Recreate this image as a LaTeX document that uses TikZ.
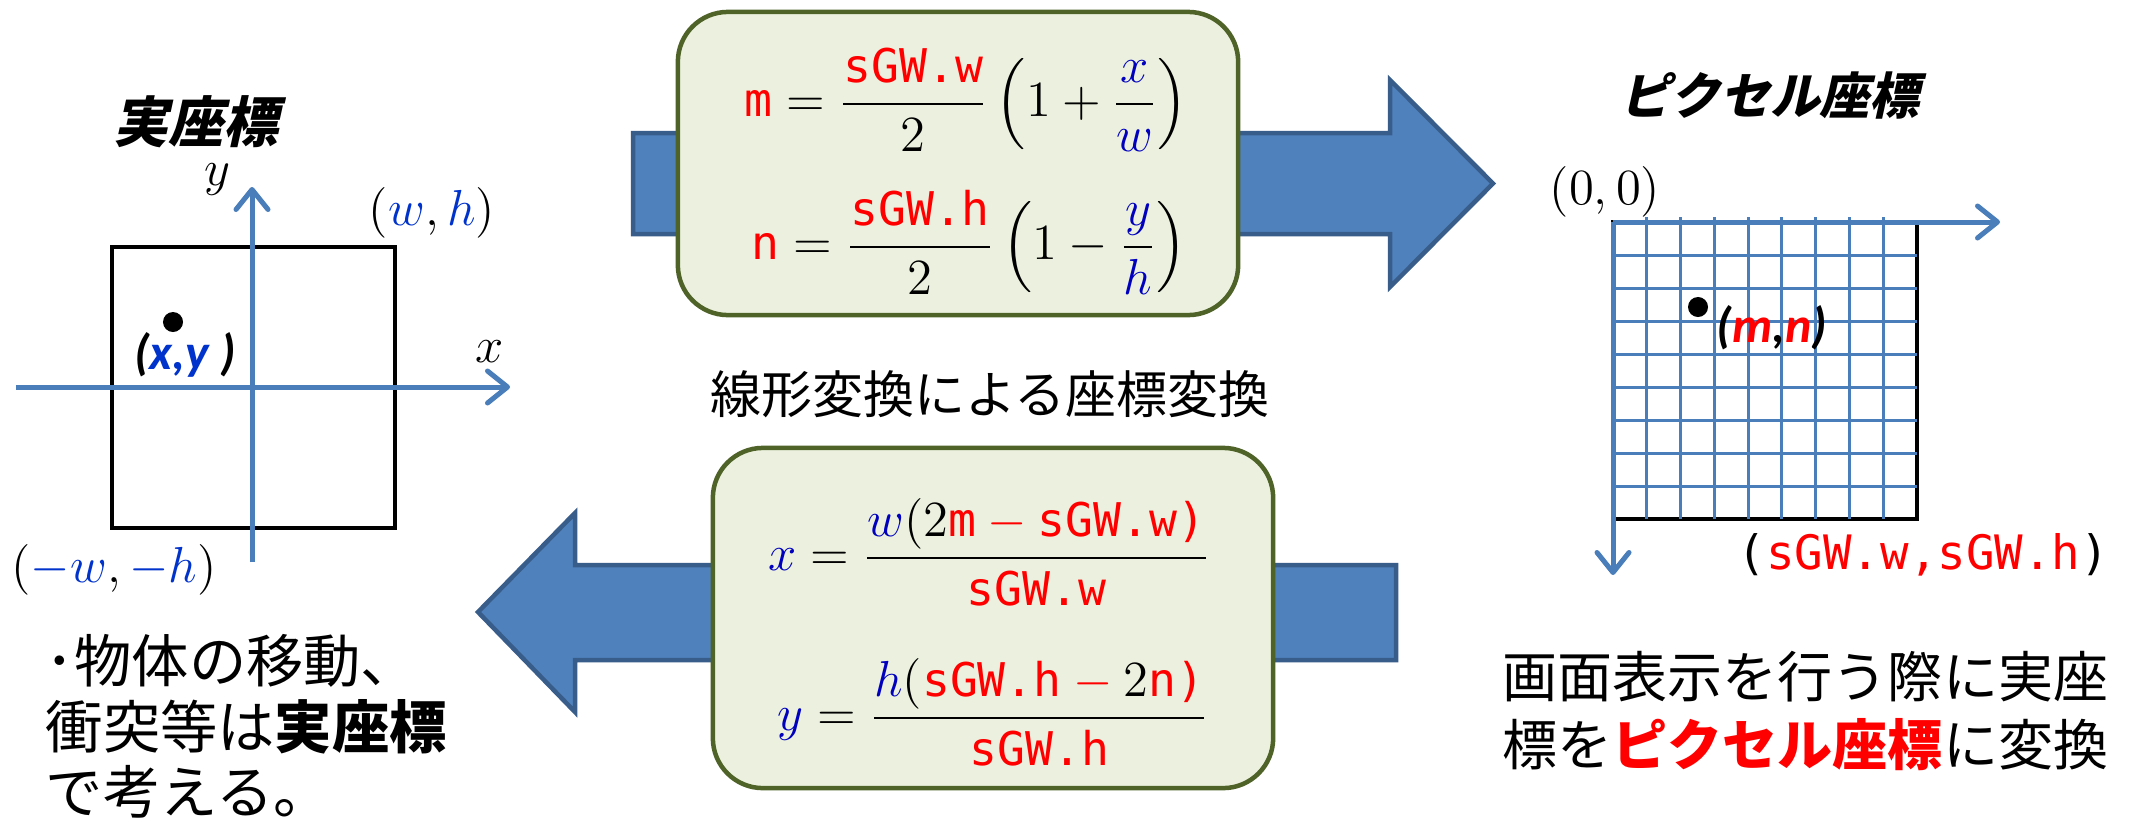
\documentclass[tikz,border=0pt]{standalone}
\usepackage{fontspec}
\usepackage{amsmath}
\usetikzlibrary{arrows.meta}

\newfontfamily\jp{Noto Sans CJK JP}
\newfontfamily\jpsl[FakeSlant=0.22]{Noto Sans CJK JP}
\newfontfamily\cali{Carlito}
\newfontfamily\code[Scale=0.93]{DejaVu Sans Mono}

\definecolor{axisblue}{RGB}{74,126,187}
\definecolor{arrowfill}{RGB}{79,129,189}
\definecolor{arrowedge}{RGB}{56,93,138}
\definecolor{boxfill}{RGB}{235,241,222}
\definecolor{boxedge}{RGB}{79,98,40}
\definecolor{varblue}{RGB}{0,51,204}
\definecolor{mathblue}{RGB}{0,0,190}
\definecolor{hot}{RGB}{255,0,0}

% program identifiers (red, monospaced) and real-coordinate variables (blue)
\newcommand{\cv}[1]{\textcolor{hot}{\text{\code #1}}}
\newcommand{\bv}[1]{\textcolor{mathblue}{#1}}
\newcommand{\lv}[1]{\textcolor{varblue}{#1}}

\tikzset{
  axis/.style={draw=axisblue, line width=0.05cm,
    -{Straight Barb[length=0.2cm,width=0.32cm,round]}},
  gridline/.style={draw=axisblue, line width=0.03cm},
  frame/.style={draw=black, line width=0.045cm},
  blockarrow/.style={fill=arrowfill, draw=arrowedge, line width=0.045cm, line join=miter},
  formbox/.style={draw=boxedge, fill=boxfill, line width=0.045cm,
    rounded corners=0.5cm, minimum width=5.6cm, inner sep=0pt},
  formula/.style={inner sep=0pt, font=\fontsize{14.2}{17}\selectfont},
  mathlabel/.style={inner sep=0pt, font=\fontsize{14.2}{17}\selectfont},
  ptlabel/.style={inner sep=0pt, font=\cali\bfseries\itshape\fontsize{14.2}{17}\selectfont},
  dot/.style={circle, fill=black, inner sep=0pt, minimum size=0.2cm},
  heading/.style={inner sep=0pt, font=\jpsl\bfseries\fontsize{15.6}{18}\selectfont},
  leftnote/.style={inner sep=0pt, anchor=west, font=\jp\fontsize{16.3}{20}\selectfont},
  rightnote/.style={inner sep=0pt, anchor=west, font=\jp\fontsize{15.65}{19}\selectfont},
}

\begin{document}
\begin{tikzpicture}[x=0.01cm, y=-0.01cm]
\fill[white] (0,0) rectangle (2131,821);
\path[use as bounding box] (0,0) rectangle (2131,821);

% ---------- real coordinates ----------
\node[heading] (realtitle) at (196,122) {実座標};
\draw[frame] (112,247) rectangle (395,528);
\coordinate (xs) at (16,387);   \coordinate (xe) at (510,387);
\coordinate (ys) at (252,562);  \coordinate (ye) at (252,187);
\draw[axis] (xs) -- (xe);
\draw[axis] (ys) -- (ye);
\node[mathlabel] (ylab) at (217,180) {$y$};
\node[mathlabel] (xlab) at (490,352) {$x$};
\node[mathlabel] (wh) at (432,213) {$(\lv{w},\lv{h})$};
\node[mathlabel] (mwh) at (114,570) {$(\lv{-w},\lv{-h})$};
\node[dot] (pxy) at (173,322) {};
\node[ptlabel] (lxy) at (185,355) {(\textcolor{varblue}{x,y} )};

% ---------- transformation arrows ----------
\draw[blockarrow] (633,133) -- (1390,133) -- (1390,80) -- (1493,183.5)
  -- (1390,287) -- (1390,234) -- (633,234) -- cycle;
\draw[blockarrow] (478,612) -- (575,513) -- (575,565) -- (1396,565)
  -- (1396,660) -- (575,660) -- (575,712) -- cycle;

\node[formbox, minimum height=3.03cm] (topbox) at (958,163.5) {};
\node[formula] (fm) at (966,100)
  {$\displaystyle \cv{m} = \frac{\cv{sGW.w}}{2}\left(1+\frac{\bv{x}}{\bv{w}}\right)$};
\node[formula] (fn) at (969,242)
  {$\displaystyle \cv{n} = \frac{\cv{sGW.h}}{2}\left(1-\frac{\bv{y}}{\bv{h}}\right)$};

\node[inner sep=0pt, font=\jp\fontsize{14.5}{17}\selectfont] (caption) at (990,394)
  {線形変換による座標変換};

\node[formbox, minimum height=3.4cm] (botbox) at (993,618) {};
\node[formula] (fx) at (989,552)
  {$\displaystyle \bv{x} = \frac{\bv{w}(2\cv{m}\mathbin{\textcolor{hot}{-}}\cv{sGW.w)}}{\cv{sGW.w}}$};
\node[formula] (fy) at (993,712)
  {$\displaystyle \bv{y} = \frac{\bv{h}(\cv{sGW.h}\mathbin{\textcolor{hot}{-}}2\cv{n)}}{\cv{sGW.h}}$};

% ---------- pixel coordinates ----------
\node[heading, font=\jpsl\bfseries\fontsize{14.2}{17}\selectfont] (pixtitle) at (1770,96) {ピクセル座標};
\draw[frame] (1613,222) rectangle (1917,519);
\foreach \i in {1,...,8}
  \draw[gridline] ({1613+\i*33.78},217) -- ({1613+\i*33.78},519);
\foreach \j in {1,...,8}
  \draw[gridline] (1613,{222+\j*33}) -- (1917,{222+\j*33});
\coordinate (o2) at (1613,222);
\coordinate (u2) at (2000,222);
\coordinate (v2) at (1613,575);
\draw[axis] (o2) -- (u2);
\draw[axis] (o2) -- (v2);
\node[mathlabel] (zero) at (1605,192) {$(0,0)$};
\node[dot] (pmn) at (1698,307) {};
\node[ptlabel] (lmn) at (1772,328) {(\textcolor{hot}{m},\textcolor{hot}{n})};
\node[inner sep=0pt, anchor=west, font=\fontsize{14.5}{17}\selectfont\code] (corner) at (1737,555)
  {(\textcolor{hot}{sGW.w,sGW.h})};

% ---------- notes ----------
\node[leftnote] (l1) at (45,661) {･物体の移動、};
\node[leftnote] (l2) at (45,727) {衝突等は{\bfseries 実座標}};
\node[leftnote] (l3) at (45,792) {で考える。};

\node[rightnote] (r1) at (1502,677) {画面表示を行う際に実座};
\node[rightnote] (r2) at (1502,745) {標を{\bfseries\color{hot}ピクセル座標}に変換};
\end{tikzpicture}
\end{document}
